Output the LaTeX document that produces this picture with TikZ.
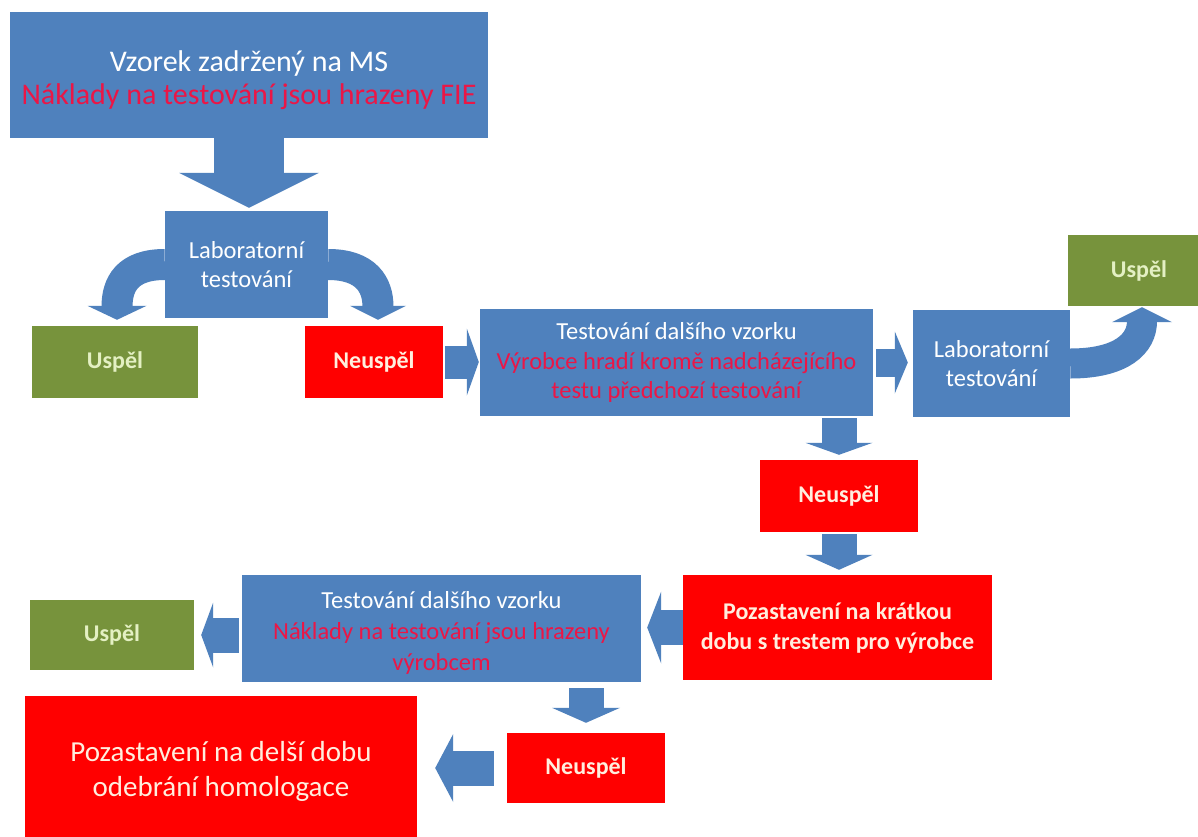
\documentclass[tikz,border=0pt]{standalone}
\usepackage{fontspec}
\setmainfont{Carlito}
\usetikzlibrary{calc}
\definecolor{boxblue}{RGB}{79,129,189}
\definecolor{boxred}{RGB}{255,0,0}
\definecolor{boxgreen}{RGB}{119,147,60}
\definecolor{redtext}{RGB}{235,22,70}
\definecolor{greentext}{RGB}{228,240,195}
\definecolor{redboxtext}{RGB}{255,238,222}
\tikzset{
  box/.style={rectangle, inner sep=0pt, align=center, draw=none},
  bluebox/.style={box, fill=boxblue, text=white, font={\fontsize{24.5}{29.5}\selectfont}},
  bigblue/.style={box, fill=boxblue, text=white, font={\fontsize{30}{33}\selectfont}},
  redbox/.style={box, fill=boxred, text=redboxtext, font={\fontsize{24}{30}\selectfont\bfseries}},
  bigred/.style={box, fill=boxred, text=redboxtext, font={\fontsize{29}{35}\selectfont}},
  greenbox/.style={box, fill=boxgreen, text=greentext, font={\fontsize{24}{29}\selectfont\bfseries}},
  shaft/.style={draw=boxblue, line cap=butt},
  headfill/.style={fill=boxblue},
}
% #1 start, #2 tip, #3 shaft width, #4 half head width, #5 head length
\newcommand\blockarr[5]{%
  \coordinate (bS) at #1;
  \coordinate (bT) at #2;
  \coordinate (bB) at ($(bT)!#5pt!(bS)$);
  \coordinate (bBi) at ($(bT)!#5pt-1pt!(bS)$);
  \draw[shaft, line width=#3pt] (bS) -- (bBi);
  \fill[headfill] (bT) -- ($(bB)!#4pt!90:(bT)$) -- ($(bB)!#4pt!-90:(bT)$) -- cycle;
}
% head only: #1 base, #2 tip, #3 half width
\newcommand\blockhead[3]{%
  \fill[headfill] #2 -- ($#1!#3pt!90:#2$) -- ($#1!#3pt!-90:#2$) -- cycle;
}
\begin{document}
\begin{tikzpicture}[x=1pt,y=-1pt]
\clip (0,0) rectangle (1198,836);
\fill[white] (0,0) rectangle (1198,836);

% boxes
\node[bigblue, minimum width=478pt, minimum height=126pt] (top) at (249,75) {};
\node[bigblue, anchor=center] (toptext) at (249,80)
  {Vzorek zadržený na MS\\{\color{redtext}Náklady na testování jsou hrazeny FIE}};
\node[bluebox, minimum width=163pt, minimum height=107pt] (lab1) at (246.5,264.5)
  {Laboratorní\\testování};
\node[greenbox, minimum width=166pt, minimum height=72pt] (uspel1) at (115,362) {Uspěl};
\node[redbox, minimum width=138pt, minimum height=72pt] (neus1) at (374,362) {Neuspěl};
\node[bluebox, minimum width=393pt, minimum height=107pt, font={\fontsize{24.5}{29.5}\selectfont}] (test1) at (676.5,362.5)
  {Testování dalšího vzorku\\{\color{redtext}Výrobce hradí kromě nadcházejícího}\\{\color{redtext}testu předchozí testování}};
\node[bluebox, minimum width=157pt, minimum height=107pt] (lab2) at (991.5,363.5)
  {Laboratorní\\testování};
\node[greenbox, minimum width=142pt, minimum height=71pt] (uspel2) at (1139,270.5) {Uspěl};
\node[redbox, minimum width=158pt, minimum height=72pt] (neus2) at (839,496) {Neuspěl};
\node[redbox, minimum width=309pt, minimum height=105pt] (poz1) at (837.5,627.5)
  {Pozastavení na krátkou\\dobu s trestem pro výrobce};
\node[bluebox, minimum width=399pt, minimum height=107pt] (test2) at (441.5,628.5) {};
\node[bluebox, font={\fontsize{24.5}{31}\selectfont}] (test2text) at (441.5,633)
  {Testování dalšího vzorku\\{\color{redtext}Náklady na testování jsou hrazeny}\\{\color{redtext}výrobcem}};
\node[greenbox, minimum width=164pt, minimum height=70pt] (uspel3) at (112,635) {Uspěl};
\node[redbox, minimum width=158pt, minimum height=70pt] (neus3) at (586,768) {Neuspěl};
\node[bigred, minimum width=392pt, minimum height=150pt] (big) at (221,771)
  {Pozastavení na delší dobu\\odebrání homologace};

% straight block arrows
\blockarr{(top.south)}{([yshift=3pt]top.south |- lab1.north)}{70}{70}{35}
\blockarr{([xshift=2pt]neus1.east)}{([xshift=-1pt]neus1.east -| test1.west)}{33}{33.5}{12}
\blockarr{([xshift=3pt]test1.east)}{([xshift=-5pt]test1.east -| lab2.west)}{28}{31}{13}
\blockarr{([yshift=-2pt]neus2.north |- test1.south)}{([yshift=5pt]neus2.north)}{35}{33.5}{12}
\blockarr{([yshift=-2pt]neus2.south)}{([yshift=5pt]neus2.south |- poz1.north)}{35}{33.5}{15}
\blockarr{(poz1.west)}{([xshift=6pt]poz1.west -| test2.east)}{35}{36}{14}
\blockarr{([xshift=-3pt]uspel3.east -| test2.west)}{([xshift=7pt]uspel3.east)}{35}{32.5}{12}
\blockarr{([yshift=-6pt]neus3.north |- test2.south)}{([yshift=10pt]neus3.north)}{35}{34}{15}
\blockarr{([xshift=-13pt]neus3.west)}{([xshift=18pt]neus3.west -| big.east)}{35}{34}{18}

% curved block arrows
\coordinate (t1) at ([xshift=2pt,yshift=6pt]uspel1.north);
\coordinate (b1) at ($(t1)+(0,-14)$);
\draw[shaft, line width=31pt] (lab1.west) .. controls +(-38,0) and +(0,-22) .. ($(b1)+(0,1)$);
\blockhead{(b1)}{(t1)}{29.5}

\coordinate (t2) at ([xshift=4pt,yshift=6pt]neus1.north);
\coordinate (b2) at ($(t2)+(0,-14)$);
\draw[shaft, line width=31pt] (lab1.east) .. controls +(38,0) and +(0,-22) .. ($(b2)+(0,1)$);
\blockhead{(b2)}{(t2)}{28}

\coordinate (t3) at ([xshift=3pt,yshift=-1pt]uspel2.south);
\coordinate (b3) at ($(t3)+(0,15)$);
\draw[shaft, line width=30pt] (lab2.east) .. controls +(52,0) and +(0,22) .. ($(b3)+(0,-1)$);
\blockhead{(b3)}{(t3)}{30}
\end{tikzpicture}
\end{document}
